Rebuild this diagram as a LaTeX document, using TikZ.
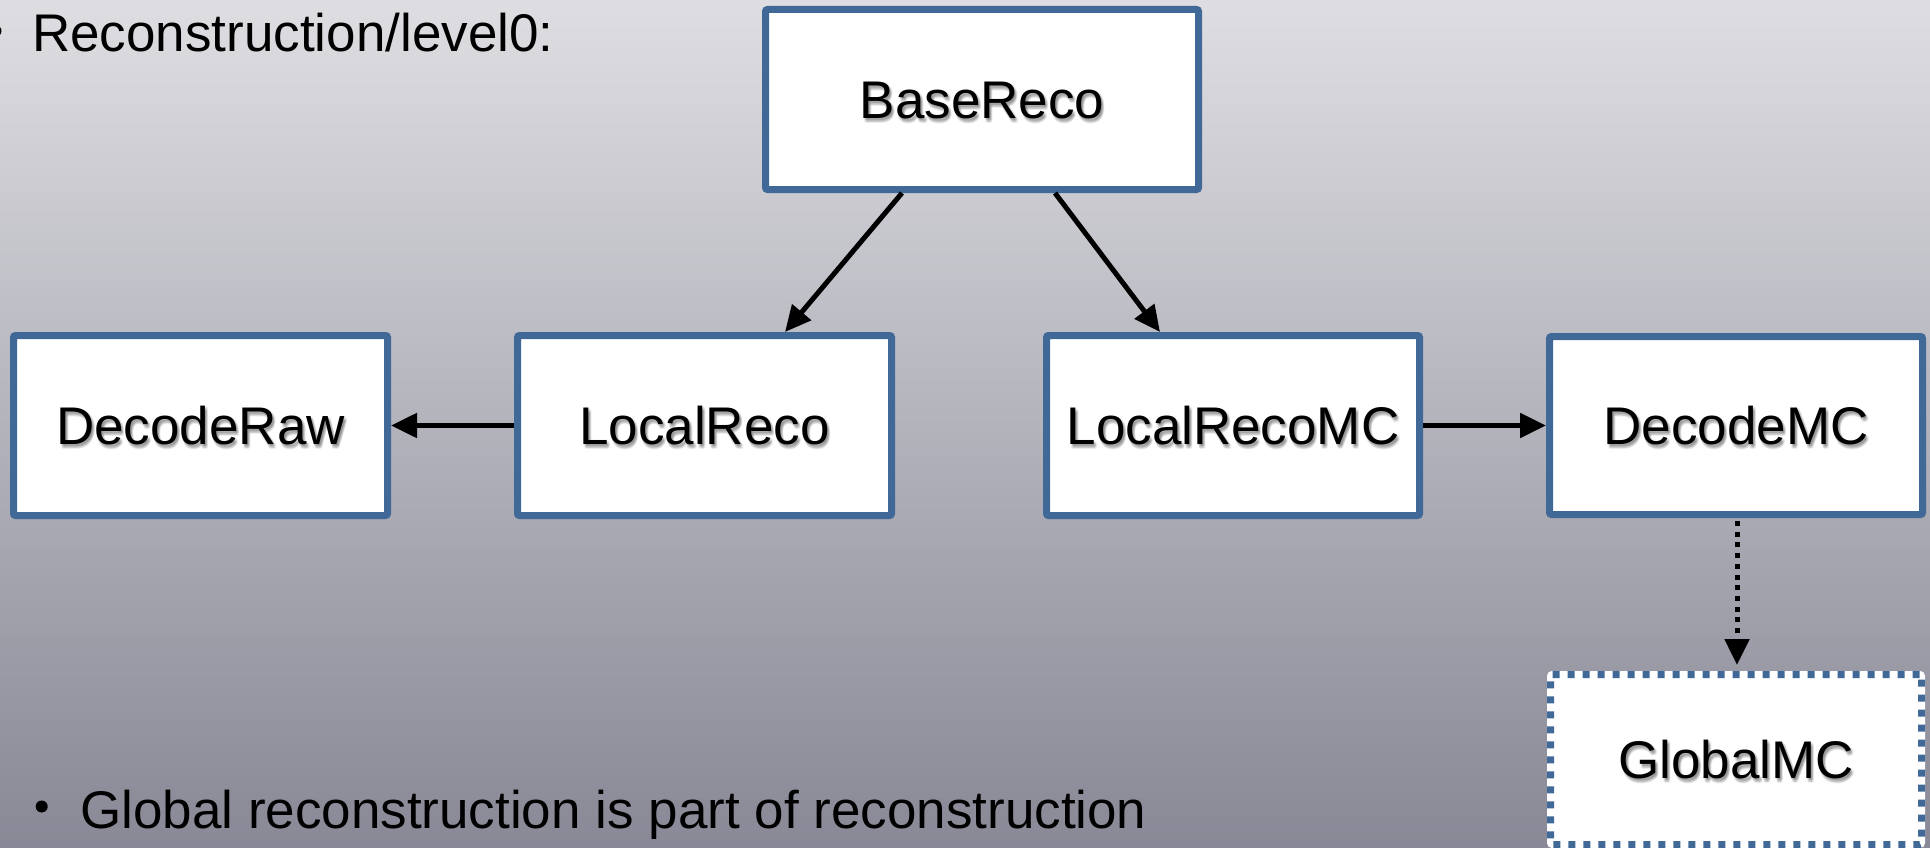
\documentclass[tikz,border=0pt]{standalone}
\usepackage{fontspec}
\setmainfont{Liberation Sans}
\usetikzlibrary{arrows.meta}

\definecolor{bgtop}{RGB}{222,222,226}
\definecolor{bgmid}{RGB}{184,184,192}
\definecolor{bgbot}{RGB}{136,136,150}
\definecolor{boxline}{RGB}{65,105,152}

\tikzset{
  stagebox/.style={draw=boxline, line width=7pt, fill=white, rounded corners=2pt,
    minimum width=374pt, minimum height=180pt, inner sep=0pt,
    font=\fontsize{53}{60}\selectfont, text height=38pt, text depth=0pt},
  optbox/.style={stagebox, draw=white,
    postaction={draw=boxline, line width=7pt, dash pattern=on 7pt off 8pt}},
  lbl/.style={inner sep=0pt, font=\fontsize{53}{60}\selectfont, text height=38pt, text depth=0pt},
  bodytext/.style={inner sep=0pt, anchor=base west, font=\fontsize{53}{60}\selectfont},
  arr/.style={draw=black, line width=5pt, -{Triangle[length=26pt,width=24pt]}},
  optarr/.style={arr, dash pattern=on 5pt off 5.7pt}
}

% soft drop shadow behind a box label
\newcommand\labelshadow[2]{%
  \foreach \dx/\dy in {1/-2,3/-2,2/-1,2/-3,1/-4,3/-4,2/-5}{%
    \node[lbl, text=black, text opacity=0.07] at ([shift={(\dx pt,\dy pt)}]#1) {#2};}%
}

\begin{document}
\begin{tikzpicture}[x=1pt, y=-1pt]
  \useasboundingbox (0,0) rectangle (1930,848);
  \clip (0,0) rectangle (1930,848);
  \shade[top color=bgtop, middle color=bgmid, bottom color=bgbot] (0,0) rectangle (1930,848);

  % heading line and bullet
  \fill[black] (-4.5,31) circle (6);
  \node[bodytext] (title) at (32,52) {Reconstruction/level0:};

  % stages
  \node[stagebox, minimum width=433pt] (base) at (982,99.5) {};
  \node[stagebox] (decraw) at (200.5,425.5) {};
  \node[stagebox] (lreco) at (704.5,425.5) {};
  \node[stagebox, minimum width=373pt] (lrecomc) at (1233,425.5) {};
  \node[stagebox, minimum width=373pt, minimum height=178pt] (decmc) at (1736,425.5) {};
  \node[optbox, minimum width=371pt, minimum height=170pt] (gmc) at (1736,759.5) {};

  % labels with soft shadow
  \labelshadow{base.center}{BaseReco}
  \labelshadow{decraw.center}{DecodeRaw}
  \labelshadow{lreco.center}{LocalReco}
  \labelshadow{lrecomc.center}{LocalRecoMC}
  \labelshadow{decmc.center}{DecodeMC}
  \labelshadow{gmc.center}{GlobalMC}
  \node[lbl] at (base.center) {BaseReco};
  \node[lbl] at (decraw.center) {DecodeRaw};
  \node[lbl] at (lreco.center) {LocalReco};
  \node[lbl] at (lrecomc.center) {LocalRecoMC};
  \node[lbl] at (decmc.center) {DecodeMC};
  \node[lbl] at (gmc.center) {GlobalMC};

  % connectors
  \draw[arr] ([xshift=-80pt]base.south) -- ([xshift=80.5pt]lreco.north);
  \draw[arr] ([xshift=73pt]base.south) -- ([xshift=-73pt]lrecomc.north);
  \draw[arr] (lreco.west) -- (decraw.east);
  \draw[arr] (lrecomc.east) -- (decmc.west);
  \draw[optarr] ([xshift=1pt,yshift=-3pt]decmc.south) -- ([xshift=1pt,yshift=6pt]gmc.north);

  % closing remark
  \fill[black] (41.7,806.5) circle (6);
  \node[bodytext] (note) at (80,828) {Global reconstruction is part of reconstruction};
\end{tikzpicture}
\end{document}
